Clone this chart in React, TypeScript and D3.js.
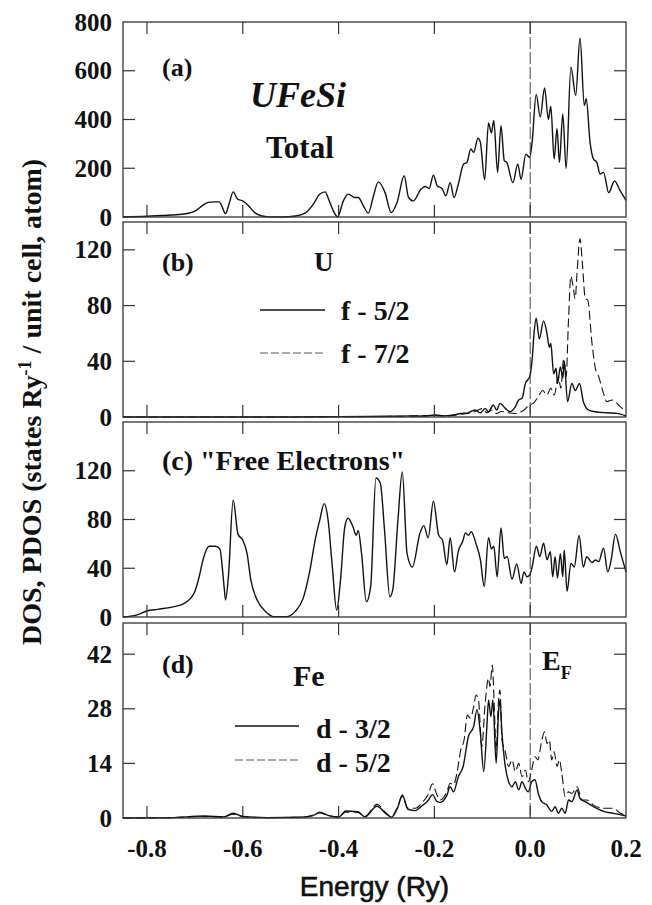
import React from "react";
import * as d3 from "d3";

// ---------- data (energy in Ry, DOS values) ----------
const xTicks = [-0.8, -0.6, -0.4, -0.2, 0.0, 0.2];
const xTickLabels = ["-0.8", "-0.6", "-0.4", "-0.2", "0.0", "0.2"];

const totalDos: [number, number][] = [
  [-0.85, 0], [-0.8, 3], [-0.77, 6], [-0.727, 11], [-0.7, 24], [-0.685, 46], [-0.672, 60], [-0.66, 62],
  [-0.649, 62], [-0.644, 46], [-0.636, 14], [-0.628, 58], [-0.62, 103], [-0.611, 74], [-0.6, 66],
  [-0.589, 48], [-0.575, 18], [-0.56, 4], [-0.545, 0.5], [-0.52, 0], [-0.49, 4], [-0.47, 16],
  [-0.453, 52], [-0.44, 92], [-0.428, 103], [-0.421, 74], [-0.412, 30], [-0.402, 1], [-0.39, 66],
  [-0.38, 94], [-0.366, 80], [-0.359, 80], [-0.348, 45], [-0.338, 16], [-0.328, 80], [-0.317, 144],
  [-0.303, 100], [-0.29, 18], [-0.278, 59], [-0.263, 169], [-0.254, 80], [-0.244, 66], [-0.228, 114],
  [-0.219, 125], [-0.211, 117], [-0.202, 172], [-0.194, 128], [-0.184, 117], [-0.176, 87], [-0.167, 141],
  [-0.159, 80], [-0.15, 135], [-0.139, 217], [-0.132, 224], [-0.124, 279], [-0.118, 265], [-0.109, 323],
  [-0.104, 306], [-0.095, 153], [-0.087, 386], [-0.081, 345], [-0.076, 396], [-0.068, 183], [-0.061, 375],
  [-0.054, 231], [-0.049, 224], [-0.036, 141], [-0.026, 217], [-0.019, 155], [-0.009, 258], [-0.001, 245],
  [0.004, 306], [0.0125, 503], [0.021, 410], [0.03, 529], [0.038, 400], [0.043, 455], [0.05, 238],
  [0.056, 362], [0.061, 224], [0.068, 423], [0.075, 199], [0.085, 616], [0.095, 499], [0.104, 735],
  [0.113, 458], [0.117, 485], [0.125, 306], [0.132, 238], [0.139, 224], [0.146, 176], [0.153, 183],
  [0.164, 100], [0.176, 148], [0.188, 107], [0.2, 68],
];

const uF52: [number, number][] = [
  [-0.85, 0], [-0.5, 0], [-0.4, 0.3], [-0.3, 0.5], [-0.25, 0.8], [-0.22, 0.6], [-0.2, 1.4], [-0.18, 0.8],
  [-0.16, 1.5], [-0.145, 2.5], [-0.13, 3], [-0.115, 5], [-0.104, 3], [-0.094, 6.2], [-0.087, 3.8],
  [-0.077, 8.6], [-0.07, 5], [-0.063, 9.8], [-0.052, 6.2], [-0.042, 3.8], [-0.031, 7.4], [-0.024, 12.2],
  [-0.017, 13.4], [-0.01, 24], [-0.001, 29], [0.004, 41], [0.008, 60], [0.0125, 71], [0.019, 56],
  [0.028, 69], [0.035, 60], [0.04, 50], [0.043, 53], [0.049, 31], [0.054, 35], [0.057, 24], [0.063, 36],
  [0.068, 28], [0.071, 40], [0.078, 11], [0.087, 24], [0.094, 19], [0.103, 24], [0.111, 11], [0.122, 5],
  [0.136, 3.8], [0.16, 3], [0.181, 2.6], [0.2, 0.7],
];

const uF72: [number, number][] = [
  [-0.85, 0], [-0.5, 0], [-0.4, 0.2], [-0.3, 0.4], [-0.25, 0.6], [-0.2, 1.2], [-0.17, 0.8], [-0.15, 1.8],
  [-0.13, 2.5], [-0.115, 4], [-0.1, 6], [-0.09, 3], [-0.08, 5], [-0.07, 2.5], [-0.06, 4], [-0.045, 3],
  [-0.03, 2.5], [-0.015, 4.5], [0.0, 9], [0.007, 10], [0.017, 14.6], [0.026, 19], [0.035, 15.8],
  [0.043, 20.6], [0.05, 15.8], [0.059, 29], [0.064, 20.6], [0.07, 42], [0.075, 29], [0.08, 70],
  [0.085, 101], [0.089, 95], [0.094, 85], [0.0975, 102], [0.104, 128], [0.109, 110], [0.115, 85],
  [0.12, 84], [0.129, 53], [0.136, 35], [0.143, 29], [0.153, 17], [0.16, 11], [0.171, 12.2],
  [0.188, 7.4], [0.2, 4],
];

const freeElectrons: [number, number][] = [
  [-0.85, 0], [-0.822, 1.6], [-0.8, 4.9], [-0.778, 6.3], [-0.743, 8.5], [-0.722, 11.2], [-0.709, 15.3],
  [-0.7, 21], [-0.691, 33], [-0.683, 47], [-0.67, 58], [-0.657, 58], [-0.648, 56], [-0.639, 25],
  [-0.636, 14], [-0.63, 33], [-0.62, 96], [-0.61, 68], [-0.6, 63], [-0.591, 52], [-0.583, 30], [-0.57, 14],
  [-0.552, 4.4], [-0.535, 0.3], [-0.509, 0.3], [-0.491, 4.4], [-0.474, 15.3], [-0.461, 36], [-0.448, 65],
  [-0.439, 80], [-0.43, 93], [-0.422, 80], [-0.413, 41], [-0.404, 5.7], [-0.396, 30], [-0.387, 74],
  [-0.38, 81], [-0.37, 74], [-0.363, 67], [-0.359, 71], [-0.352, 52], [-0.342, 12.6], [-0.333, 25],
  [-0.322, 114], [-0.313, 110], [-0.304, 71], [-0.293, 16.6], [-0.287, 22], [-0.276, 80], [-0.267, 119],
  [-0.257, 52], [-0.246, 41], [-0.23, 69], [-0.222, 75], [-0.213, 65], [-0.202, 95], [-0.191, 67],
  [-0.183, 63], [-0.174, 43], [-0.167, 65], [-0.158, 37], [-0.15, 54], [-0.141, 62], [-0.135, 69],
  [-0.129, 67], [-0.123, 70], [-0.113, 60], [-0.104, 47], [-0.096, 25], [-0.087, 65], [-0.081, 56],
  [-0.076, 58], [-0.069, 33], [-0.061, 73], [-0.054, 48], [-0.048, 49.5], [-0.038, 31], [-0.028, 43.5],
  [-0.019, 27.6], [-0.013, 37], [-0.007, 33], [-0.001, 34.5], [0.004, 41], [0.013, 58], [0.02, 49.5],
  [0.028, 60.5], [0.035, 47], [0.042, 53.6], [0.047, 33], [0.052, 49.5], [0.057, 32], [0.063, 52],
  [0.068, 33], [0.071, 55], [0.077, 21], [0.085, 44], [0.092, 41], [0.102, 67], [0.111, 41], [0.118, 49.5],
  [0.129, 44.6], [0.136, 46.8], [0.143, 45.4], [0.153, 56.4], [0.162, 37], [0.169, 46.8], [0.178, 68],
  [0.188, 53.6], [0.2, 37],
];

const feD32: [number, number][] = [
  [-0.85, 0], [-0.75, 0.1], [-0.68, 0.5], [-0.64, 0.3], [-0.62, 1.2], [-0.6, 0.4], [-0.55, 0.1], [-0.48, 0.2],
  [-0.45, 0.8], [-0.44, 1.5], [-0.42, 0.6], [-0.4, 0.2], [-0.385, 1.8], [-0.36, 1.6], [-0.345, 0.3],
  [-0.32, 3], [-0.3, 1], [-0.29, 0.2], [-0.277, 2.5], [-0.267, 5.9], [-0.255, 2.2], [-0.24, 1.9],
  [-0.225, 3.2], [-0.213, 4.5], [-0.204, 6], [-0.195, 4.3], [-0.188, 4], [-0.174, 5.8], [-0.167, 8],
  [-0.16, 6.7], [-0.15, 10.6], [-0.14, 13.2], [-0.129, 20.9], [-0.118, 23.5], [-0.111, 27.8], [-0.104, 21.8],
  [-0.097, 11.9], [-0.09, 24.4], [-0.087, 30.3], [-0.082, 26], [-0.078, 30.3], [-0.071, 14], [-0.066, 27.4],
  [-0.063, 30.3], [-0.059, 21.8], [-0.052, 13.2], [-0.045, 9.3], [-0.038, 8], [-0.031, 9.3], [-0.024, 7.2],
  [-0.017, 9.3], [-0.01, 7.6], [-0.004, 6.7], [0.003, 9.3], [0.01, 9.8], [0.017, 6.3], [0.024, 4.2],
  [0.035, 3.3], [0.045, 1.7], [0.052, 2.9], [0.059, 1.2], [0.066, 2.5], [0.073, 1.2], [0.08, 4.6],
  [0.087, 4.2], [0.098, 7.2], [0.104, 5], [0.115, 4.2], [0.132, 2.9], [0.153, 1.7], [0.174, 1.2], [0.2, 0.5],
];

const feD52: [number, number][] = [
  [-0.85, 0], [-0.75, 0.1], [-0.68, 0.4], [-0.64, 0.3], [-0.62, 1], [-0.6, 0.4], [-0.55, 0.1], [-0.48, 0.2],
  [-0.45, 0.7], [-0.44, 1.3], [-0.42, 0.6], [-0.4, 0.3], [-0.385, 1.5], [-0.36, 1.5], [-0.345, 0.4],
  [-0.32, 3.5], [-0.3, 1.2], [-0.29, 0.3], [-0.277, 2.8], [-0.267, 5.5], [-0.255, 2.5], [-0.24, 2.5],
  [-0.225, 4], [-0.213, 6], [-0.204, 8.8], [-0.195, 6], [-0.188, 4.6], [-0.174, 6.7], [-0.167, 8.9],
  [-0.16, 8.5], [-0.153, 11.5], [-0.145, 17.4], [-0.138, 20], [-0.131, 26.4], [-0.125, 25.6], [-0.118, 28.5],
  [-0.113, 31.5], [-0.108, 30.3], [-0.101, 18.3], [-0.094, 29.4], [-0.087, 35.8], [-0.084, 33.7],
  [-0.079, 39.2], [-0.075, 28.5], [-0.071, 17.4], [-0.066, 30.3], [-0.063, 32.8], [-0.059, 20], [-0.052, 17],
  [-0.045, 13.2], [-0.038, 14.9], [-0.031, 11.9], [-0.024, 14], [-0.017, 10.6], [-0.01, 12.3], [-0.004, 9.3],
  [0.003, 12.3], [0.01, 15.7], [0.016, 14.9], [0.023, 19.1], [0.03, 22.1], [0.035, 19.1], [0.04, 20],
  [0.045, 14.9], [0.05, 17], [0.056, 13.2], [0.061, 14.9], [0.066, 11.5], [0.073, 5.5], [0.08, 6.7],
  [0.087, 6.3], [0.098, 8], [0.108, 4.6], [0.118, 4.6], [0.132, 3.3], [0.153, 2.5], [0.174, 2.5],
  [0.188, 1.2], [0.2, 0.8],
];

const panelMax = [800, 140, 160, 50];
const panelTicks = [
  [0, 200, 400, 600, 800],
  [0, 40, 80, 120],
  [0, 40, 80, 120],
  [0, 14, 28, 42],
];

// ---------- layout ----------
const W = 652;
const H = 905;
const left = 123;
const right = 626;
const panelTops = [22, 222, 422, 623];
const panelH = 195;

const serif = "Liberation Serif, Times New Roman, serif";
const sans = "Liberation Sans, Arial, sans-serif";

const x = d3.scaleLinear().domain([-0.85, 0.2]).range([left, right]);

type Series = { data: [number, number][]; dashed: boolean };

const panelSeries: Series[][] = [
  [{ data: totalDos, dashed: false }],
  [
    { data: uF52, dashed: false },
    { data: uF72, dashed: true },
  ],
  [{ data: freeElectrons, dashed: false }],
  [
    { data: feD32, dashed: false },
    { data: feD52, dashed: true },
  ],
];

function Panel({ i }: { i: number }) {
  const top = panelTops[i];
  const bottom = top + panelH;
  const y = d3.scaleLinear().domain([0, panelMax[i]]).range([bottom, top]);
  const line = d3
    .line<[number, number]>()
    .x((d) => x(d[0]))
    .y((d) => y(d[1]))
    .curve(d3.curveMonotoneX);
  const tl = 12;
  return (
    <g>
      {panelSeries[i].map((s, k) => (
        <path
          key={k}
          d={line(s.data) || ""}
          fill="none"
          stroke="#111"
          strokeWidth={s.dashed ? 1.1 : 1.4}
          strokeDasharray={s.dashed ? "9 4" : undefined}
          strokeLinejoin="round"
        />
      ))}
      {/* Fermi level */}
      <line x1={x(0)} x2={x(0)} y1={top} y2={bottom} stroke="#333" strokeWidth={0.9} strokeDasharray="12 3" />
      {/* frame */}
      <rect x={left} y={top} width={right - left} height={panelH} fill="none" stroke="#333" strokeWidth={1.3} />
      {/* x ticks top and bottom */}
      {xTicks
        .filter((t) => t > -0.85 && t < 0.2)
        .map((t) => (
          <g key={t}>
            <line x1={x(t)} x2={x(t)} y1={top} y2={top + tl} stroke="#333" strokeWidth={1.2} />
            <line x1={x(t)} x2={x(t)} y1={bottom} y2={bottom - tl} stroke="#333" strokeWidth={1.2} />
          </g>
        ))}
      {/* y ticks and labels */}
      {panelTicks[i].map((t) => (
        <g key={t}>
          {t > 0 && t < panelMax[i] && (
            <>
              <line x1={left} x2={left + tl} y1={y(t)} y2={y(t)} stroke="#333" strokeWidth={1.2} />
              <line x1={right} x2={right - tl} y1={y(t)} y2={y(t)} stroke="#333" strokeWidth={1.2} />
            </>
          )}
          <text
            x={112}
            y={y(t) + 8.5}
            textAnchor="end"
            fontFamily={serif}
            fontWeight="bold"
            fontSize={25}
            fill="#111"
          >
            {t}
          </text>
        </g>
      ))}
    </g>
  );
}

export default function App() {
  const bt = { fontFamily: serif, fontWeight: "bold" as const, fill: "#111" };
  return (
    <svg
      width={W}
      height={H}
      viewBox={`0 0 ${W} ${H}`}
      style={{ position: "absolute", left: 0, top: 0, background: "#fff" }}
    >
      <rect x={0} y={0} width={W} height={H} fill="#fff" />
      {[0, 1, 2, 3].map((i) => (
        <Panel key={i} i={i} />
      ))}

      {/* x tick labels */}
      {xTicks.map((t, k) => (
        <text key={t} x={x(t)} y={857} textAnchor="middle" fontSize={25} {...bt}>
          {xTickLabels[k]}
        </text>
      ))}
      <text
        x={(left + right) / 2}
        y={896}
        textAnchor="middle"
        fontFamily={sans}
        fontSize={28}
        fill="#111"
        stroke="#111"
        strokeWidth={0.6}
      >
        Energy (Ry)
      </text>

      {/* y axis title */}
      <text transform="translate(41,402) rotate(-90)" textAnchor="middle" fontSize={28} {...bt}>
        DOS, PDOS (states Ry
        <tspan fontSize={18} dy={-10}>-1</tspan>
        <tspan dy={10}> / unit cell, atom)</tspan>
      </text>

      {/* panel (a) */}
      <text x={162} y={76} fontSize={26} {...bt}>(a)</text>
      <text x={250} y={107} fontSize={36} fontStyle="italic" {...bt}>UFeSi</text>
      <text x={266} y={158} fontSize={31} {...bt}>Total</text>

      {/* panel (b) */}
      <text x={162} y={271} fontSize={26} {...bt}>(b)</text>
      <text x={314} y={271} fontSize={27} {...bt}>U</text>
      <line x1={260} x2={325} y1={310} y2={310} stroke="#111" strokeWidth={1.4} />
      <text x={341} y={320} fontSize={28} {...bt}>f - 5/2</text>
      <line x1={260} x2={325} y1={353} y2={353} stroke="#555" strokeWidth={1} strokeDasharray="8 3" />
      <text x={341} y={363} fontSize={28} {...bt}>f - 7/2</text>

      {/* panel (c) */}
      <text x={162} y={470} fontSize={28} {...bt}>(c) "Free Electrons"</text>

      {/* panel (d) */}
      <text x={162} y={673} fontSize={26} {...bt}>(d)</text>
      <text x={293} y={686} fontSize={30} {...bt}>Fe</text>
      <line x1={235} x2={299} y1={726} y2={726} stroke="#111" strokeWidth={1.4} />
      <text x={316} y={738} fontSize={28} {...bt}>d - 3/2</text>
      <line x1={235} x2={299} y1={760} y2={760} stroke="#555" strokeWidth={1} strokeDasharray="8 3" />
      <text x={316} y={772} fontSize={28} {...bt}>d - 5/2</text>
      <text x={542} y={670} fontSize={28} {...bt}>
        E<tspan fontSize={18} dy={9}>F</tspan>
      </text>
    </svg>
  );
}
